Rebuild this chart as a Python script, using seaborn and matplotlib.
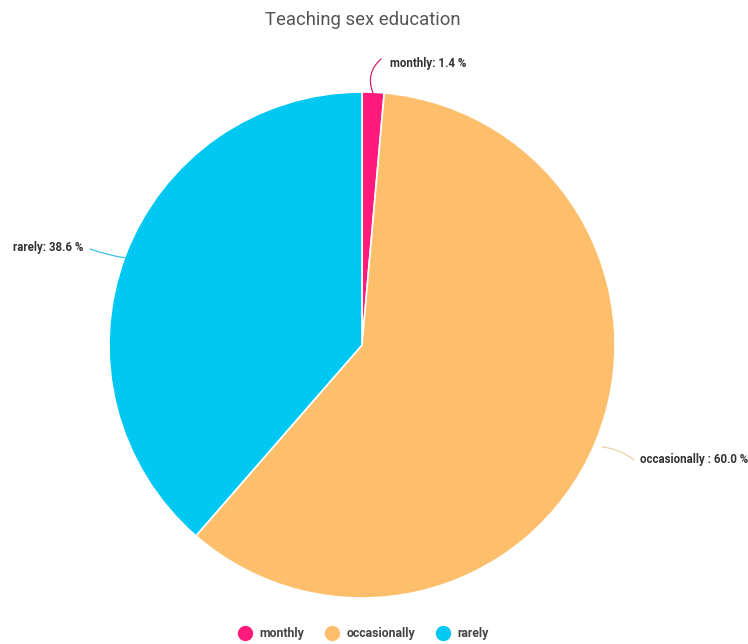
import matplotlib
matplotlib.use("Agg")
import matplotlib.pyplot as plt
from matplotlib.lines import Line2D
import seaborn as sns

categories = ["monthly", "occasionally", "rarely"]
shares = [1.4, 60.0, 38.6]
label_texts = ["monthly: 1.4 %", "occasionally : 60.0 %", "rarely: 38.6 %"]
colors = ["#FF1A7C", "#FDBF6B", "#00C8F2"]

sns.set_theme(style="white")
plt.rcParams["font.family"] = ["Roboto", "DejaVu Sans"]

W, H = 748, 644
fig = plt.figure(figsize=(W / 100, H / 100), dpi=100)
cx, cy, r = 362, 345, 253
ax = fig.add_axes([(cx - r) / W, (H - cy - r) / H, 2 * r / W, 2 * r / H])

wedges, _ = ax.pie(
    shares, colors=colors, startangle=90, counterclock=False,
    radius=1.0, wedgeprops=dict(edgecolor="white", linewidth=1.2),
)
ax.set_xlim(-1, 1)
ax.set_ylim(-1, 1)
ax.set_aspect("equal")
ax.axis("off")


def to_data(px, py):
    return ((px - cx) / r, (cy - py) / r)


# (point on wedge, end of leader line, text anchor, ha, curvature)
label_specs = [
    ((373, 93), (381, 59), (390, 63), "left", 0.35),
    ((602, 447), (634, 460), (640, 460), "left", 0.15),
    ((126, 258), (90, 249), (83, 248), "right", 0.05),
]
line_colors = ["#D0207A", "#E8D6A8", "#3CC0E0"]
for txt, (pt, end, tp, ha, rad), lc in zip(label_texts, label_specs, line_colors):
    ax.annotate(
        "", xy=to_data(*pt), xytext=to_data(*end), annotation_clip=False,
        arrowprops=dict(arrowstyle="-", color=lc, lw=0.9,
                        connectionstyle=f"arc3,rad={rad}",
                        shrinkA=0, shrinkB=0),
    )
    tx, ty = to_data(*tp)
    ax.text(tx, ty, txt, ha=ha, va="center", fontsize=8.3, fontweight="bold",
            color="#333333", clip_on=False)

fig.text(362.5 / W, 1 - 20 / H, "Teaching sex education", ha="center", va="center",
         fontsize=13.3, color="#555555")

handles = [Line2D([0], [0], marker="o", linestyle="", markersize=10,
                  markerfacecolor=c, markeredgecolor=c) for c in colors]
fig.legend(handles, categories, loc="center", bbox_to_anchor=(363 / W, 1 - 634 / H),
           ncol=3, frameon=False, handletextpad=0.55, columnspacing=1.7,
           handlelength=1.2,
           prop=dict(family="Roboto", weight="bold", size=8.8),
           labelcolor="#444444")

fig.savefig("out.png", dpi=100, facecolor="white")
